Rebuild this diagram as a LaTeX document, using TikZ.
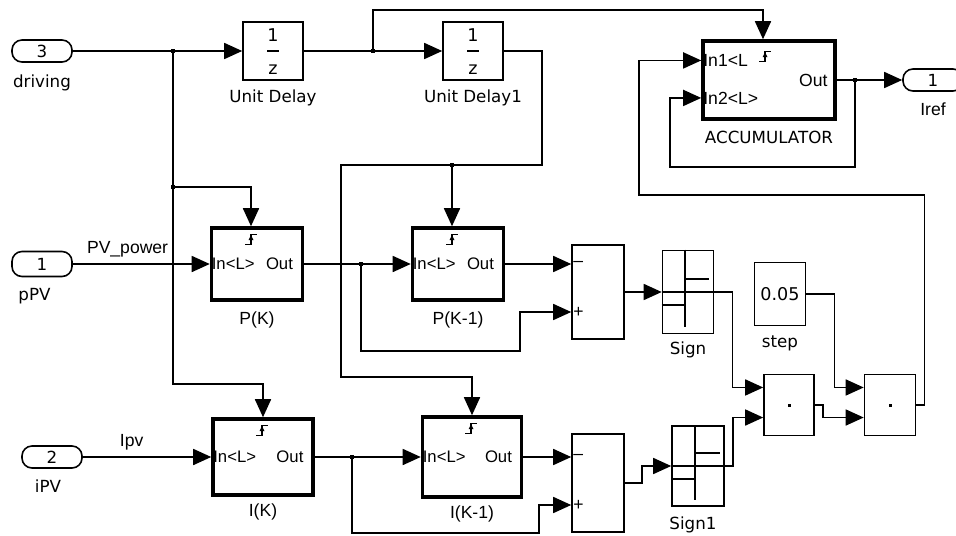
\documentclass[tikz,border=0pt]{standalone}
\usepackage{fontspec}
\setmainfont{Liberation Sans}
\newfontfamily\widefont{DejaVu Sans}
\usepackage{tikz}
\usetikzlibrary{arrows.meta, positioning, calc}

\newcommand{\trigsym}[1]{%
  \draw [line width=0.8pt] ($(#1)+(-6,5)$) -- ++(6,0) -- ++(0,-10) -- ++(6,0);
  \fill ($(#1)+(-2.5,1)$) -- ($(#1)+(2.5,1)$) -- ($(#1)+(0,-4)$) -- cycle;}
\newcommand{\zfrac}[1]{%
  \node [font=\widefont] at ($(#1)+(0,-16)$) {1};
  \draw [wire] ($(#1)+(-6,0)$) -- ($(#1)+(6,0)$);
  \node [font=\widefont] at ($(#1)+(0,19)$) {z};}
\newcommand{\signsym}[1]{%
  \draw [line width=0.7pt] ($(#1.north)+(-3,0)$) -- ($(#1.south)+(-3,-7)$);
  \draw [line width=0.7pt] (#1.west) -- (#1.east);
  \draw [line width=0.7pt] ($(#1)+(-3,-13)$) -- ($(#1.east)+(-5,-13)$);
  \draw [line width=0.7pt] ($(#1.west)+(0,13)$) -- ($(#1)+(-3,13)$);}
\newcommand{\subtext}[2]{%
  \node [right, inner sep=1pt, font=\fontsize{9.5}{11}\selectfont] at (#1.west) {In<L>};
  \node [left, inner sep=0pt, font=\fontsize{9.5}{11}\selectfont] at ($(#1.east)+(-11,0)$) {Out};
  \coordinate (#1-t) at ($(#1.north)+(#2,13)$);
  \trigsym{#1-t}}

\begin{document}
\begin{tikzpicture}[
        x=0.2mm, y=-0.2mm,
        font=\fontsize{10}{12}\selectfont,
        wire/.style={line width=0.9pt},
        arrow/.style={wire, -{Triangle[length=3.6mm, width=3.2mm]}},
        port/.style={rectangle, rounded corners=2mm, draw, wire, minimum width=12mm, minimum height=4.4mm, inner sep=0pt, font=\widefont\fontsize{9.5}{10}\selectfont},
        block/.style={rectangle, draw, wire, inner sep=0pt},
        subsys/.style={rectangle, draw, line width=2pt, inner sep=0pt, minimum width=18.2mm, minimum height=14.4mm},
        caption/.style={font=\widefont\fontsize{9.5}{11}\selectfont},
        branch/.style={rectangle, fill, inner sep=0pt, minimum size=2.4pt}
    ]
    \useasboundingbox (0,0) rectangle (956,536);

    \node (driving) [port] at (42,51) {3};
    \node (ppv) [port, minimum height=5mm] at (42,264) {1};
    \node (ipv) [port] at (52,457) {2};
    \node (iref) [port] at (933,80) {1};

    \node (ud1) [block, minimum width=12mm, minimum height=11.6mm] at (273,51) {};
    \node (ud2) [block, minimum width=12mm, minimum height=11.6mm] at (473,51) {};
    \node (pk) [subsys] at (257,264) {};
    \node (pk1) [subsys] at (458,264) {};
    \node (ik) [subsys, minimum width=20mm, minimum height=15.2mm] at (263,457) {};
    \node (ik1) [subsys, minimum width=19.8mm, minimum height=16mm] at (472,457) {};
    \node (sumP) [block, minimum width=10.4mm, minimum height=18.8mm] at (598,292) {};
    \node (sgn) [block, minimum width=10.2mm, minimum height=16.6mm] at (688,292) {};
    \node (sumI) [block, minimum width=10.4mm, minimum height=19.6mm] at (598,483) {};
    \node (sgn1) [block, minimum width=10.4mm, minimum height=16mm] at (698,466) {};
    \node (stp) [block, minimum width=10.2mm, minimum height=12.6mm, font=\widefont] at (780,294) {0.05};
    \node (prod1) [block, minimum width=10mm, minimum height=12.2mm] at (789,405) {};
    \node (prod2) [block, minimum width=10.2mm, minimum height=12.2mm] at (890,405) {};
    \node (acc) [subsys, minimum width=26.4mm, minimum height=15.6mm] at (769,80) {};

    \zfrac{ud1}
    \zfrac{ud2}
    \subtext{pk}{-6}
    \subtext{pk1}{-6}
    \subtext{ik}{-1}
    \subtext{ik1}{-1}
    \signsym{sgn}
    \signsym{sgn1}
    \fill (prod1) +(-1.5,-1.5) rectangle +(1.5,1.5);
    \fill (prod2) +(-1.5,-1.5) rectangle +(1.5,1.5);

    \coordinate (b1) at (173,51);
    \coordinate (b2) at (173,187);
    \coordinate (b3) at (373,51);
    \coordinate (b4) at ($(pk1.north)+(-6,-61)$);
    \coordinate (b5) at (361,264);
    \coordinate (b6) at (855,80);
    \coordinate (b7) at (352,457);
    \coordinate (sp-a) at (sumP.west |- pk1.east);
    \coordinate (sp-b) at ($(sumP.west)+(0,20)$);
    \coordinate (si-a) at (sumI.west |- ik1.east);
    \coordinate (si-b) at ($(sumI.west)+(0,22)$);
    \coordinate (p1-a) at ($(prod1.north west)!0.22!(prod1.south west)$);
    \coordinate (p1-b) at ($(prod1.north west)!0.7!(prod1.south west)$);
    \coordinate (p2-a) at ($(prod2.north west)!0.22!(prod2.south west)$);
    \coordinate (p2-b) at ($(prod2.north west)!0.7!(prod2.south west)$);
    \coordinate (acc-a) at ($(acc.north west)!0.26!(acc.south west)$);
    \coordinate (acc-b) at ($(acc.north west)!0.72!(acc.south west)$);

    \node [right, inner sep=1pt] at (sp-a) {–};
    \node [right, inner sep=1pt] at (sp-b) {+};
    \node [right, inner sep=1pt] at (si-a) {–};
    \node [right, inner sep=1pt] at (si-b) {+};
    \node [right, inner sep=1pt] at (acc-a) {In1<L};
    \node [right, inner sep=1pt] at (acc-b) {In2<L>};
    \node [left, inner sep=0pt] at ($(acc.east)+(-9,0)$) {Out};
    \coordinate (acc-t) at ($(acc.north)+(-4,17)$);
    \trigsym{acc-t}

    \draw [arrow] (driving.east) -- (ud1.west);
    \draw [arrow] (b1) |- ($(ik.north)+(0,-33)$) -- (ik.north);
    \draw [arrow] (b2) -| ($(pk.north)+(-6,0)$);
    \draw [arrow] (ud1.east) -- (ud2.west);
    \draw [arrow] (b3) -- ++(0,-41) -| ($(acc.north)+(-6,0)$);
    \draw [arrow] (ud2.east) -- ++(38,0) |- (b4) -- ++(-111,0) |- ($(ik1.north)+(0,-38)$) -- (ik1.north);
    \draw [arrow] (b4) -- ($(pk1.north)+(-6,0)$);
    \draw [arrow] (ppv.east) -- node [above, pos=0.4] {PV\_power} (pk.west);
    \draw [arrow] (pk.east) -- (pk1.west);
    \draw [arrow] (b5) -- ++(0,87) -| ($(sp-b)+(-51,0)$) -- (sp-b);
    \draw [arrow] (pk1.east) -- (sp-a);
    \draw [arrow] (sumP.east) -- (sgn.west);
    \draw [arrow] (sgn.east) -- ++(18,0) |- (p1-a);
    \draw [arrow] (stp.east) -- ++(28,0) |- (p2-a);
    \draw [arrow] (prod1.east) -- ++(8,0) |- (p2-b);
    \draw [arrow] (prod2.east) -- ++(8,0) |- ($(acc.west)+(-62,115)$) |- (acc-a);
    \draw [arrow] (acc.east) -- (iref.west);
    \draw [arrow] (b6) -- ++(0,87) -| ($(acc-b)+(-31,0)$) -- (acc-b);
    \draw [arrow] (ipv.east) -- node [above, pos=0.38] {Ipv} (ik.west);
    \draw [arrow] (ik.east) -- (ik1.west);
    \draw [arrow] (b7) -- ++(0,76) -| ($(si-b)+(-32,0)$) -- (si-b);
    \draw [arrow] (ik1.east) -- (si-a);
    \draw [arrow] (sumI.east) -- ++(17,0) |- (sgn1.west);
    \draw [arrow] (sgn1.east) -- ++(8,0) |- (p1-b);

    \foreach \b in {b1,b2,b3,b4,b5,b6,b7}
        \node [branch] at (\b) {};

    \node [caption, below=1.2mm of driving] {driving};
    \node [caption, below=1mm of ppv, xshift=-1.5mm] {pPV};
    \node [caption, below=1mm of ipv, xshift=-0.8mm] {iPV};
    \node [below=1mm of iref] {Iref};
    \node [caption, below=0.5mm of ud1] {Unit Delay};
    \node [caption, below=0.5mm of ud2] {Unit Delay1};
    \node [below=0.8mm of pk] {P(K)};
    \node [below=0.8mm of pk1] {P(K-1)};
    \node [below=0.2mm of ik] {I(K)};
    \node [below=0.2mm of ik1] {I(K-1)};
    \node [caption, below=0.2mm of sgn] {Sign};
    \node [caption, below=0.8mm of sgn1, xshift=-1mm] {Sign1};
    \node [caption, below=0.6mm of stp] {step};
    \node [caption, below=0.8mm of acc] {ACCUMULATOR};
\end{tikzpicture}
\end{document}
